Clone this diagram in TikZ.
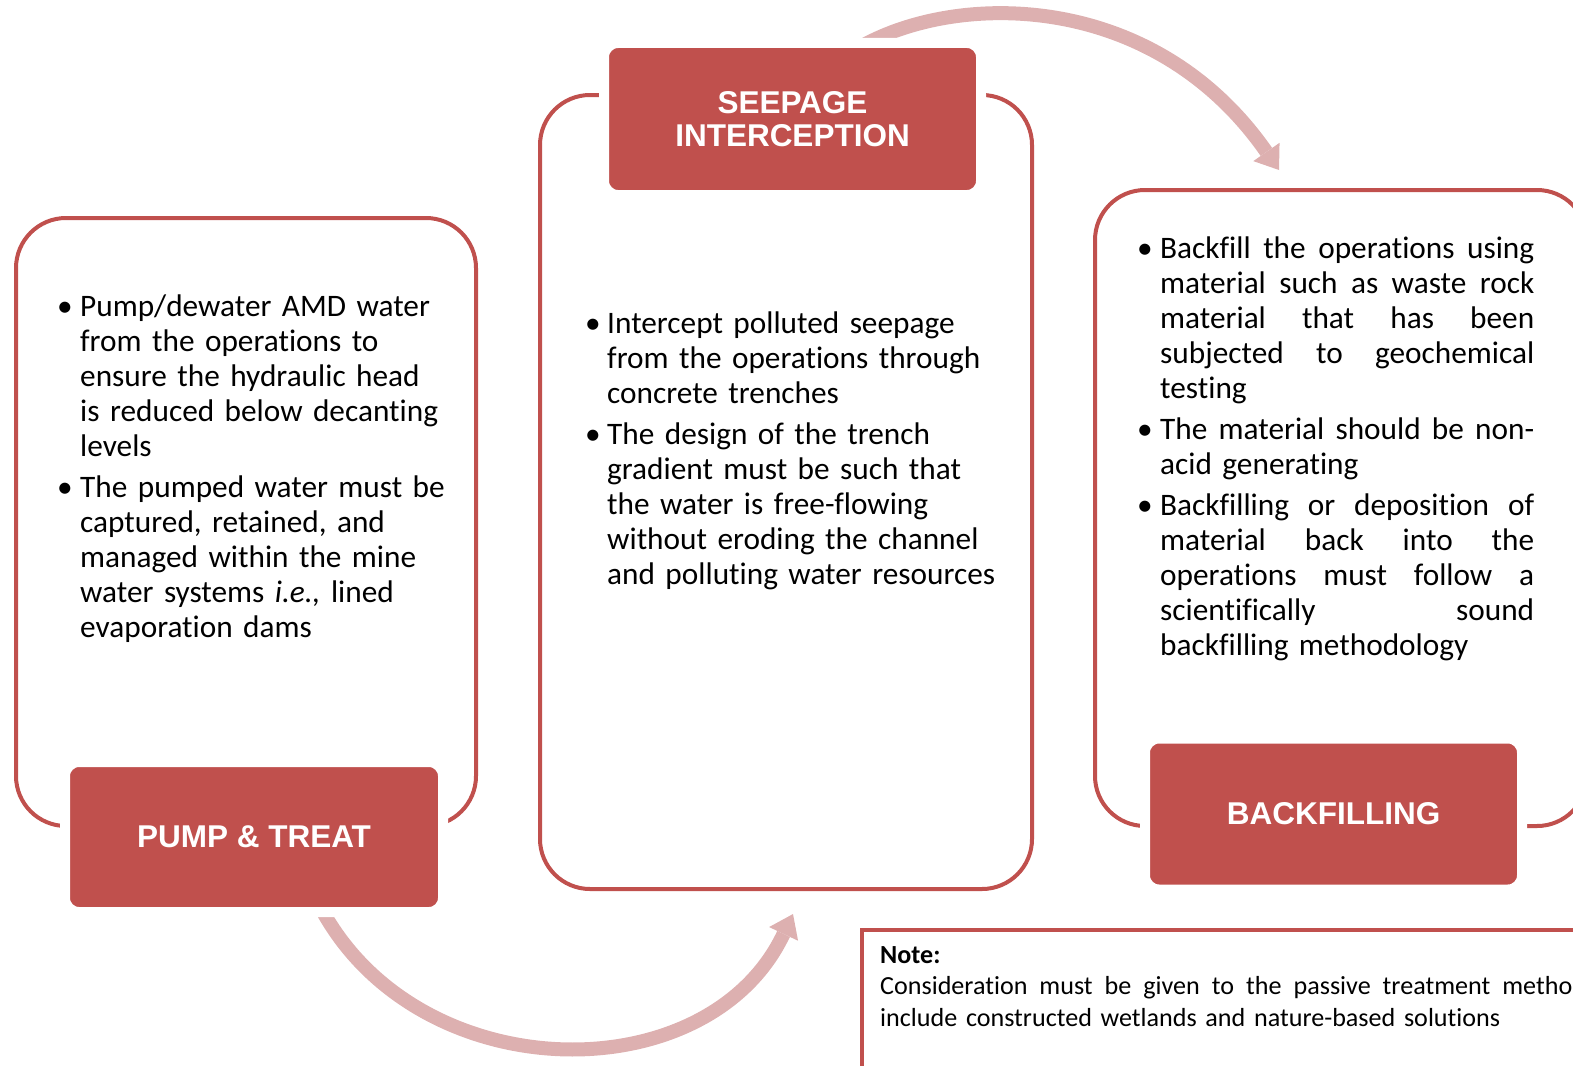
\documentclass[tikz,border=0pt]{standalone}
\usepackage{fontspec}
\setmainfont{Carlito}[Ligatures=NoCommon]
\newfontfamily\titlefont{Liberation Sans}
\usetikzlibrary{arrows.meta}
\definecolor{accred}{HTML}{C0504D}
\definecolor{arrowpink}{HTML}{DDB0B0}
\newcommand{\bul}[2]{\noindent\hangindent=#1\hangafter=1\makebox[#1][l]{\textbullet}#2\par}
\newcommand{\jw}[2]{\hbox to #1{\spaceskip=0.226em plus 1fil\relax #2}}
\newcommand{\jl}[1]{\jw{374pt}{#1}}
\tikzset{
  outlinebox/.style={draw=accred, line width=4pt, rounded corners=50pt, inner sep=0pt},
  titlebox/.style={fill=accred, draw=white, line width=10pt, rounded corners=14pt, inner sep=0pt,
     text=white, font=\titlefont\bfseries\fontsize{31.5}{33}\selectfont, align=center},
  bodytext/.style={anchor=base west, inner sep=0pt, font=\fontsize{31.3}{35}\selectfont},
  flowarrow/.style={draw=arrowpink, line width=14pt,
     -{Triangle[width=32pt,length=22pt,line width=0pt]}},
}
\begin{document}
\begin{tikzpicture}[x=1pt,y=-1pt]
\useasboundingbox (0,0) rectangle (1573,1065);
\clip (0,0) rectangle (1573,1065);
% flow arrows
\coordinate (ta0) at (852,52);
\coordinate (ta1) at (1279,170);
\coordinate (ba0) at (310,885);
\coordinate (ba1) at (793,914);
\draw[flowarrow] (ta0) .. controls (945,-8) and (1150,-15) .. (ta1);
\draw[flowarrow] (ba0) .. controls (395,1090) and (705,1100) .. (ba1);
% outline boxes
\node[outlinebox, minimum width=460pt, minimum height=608pt] (lbox) at (246,522) {};
\node[outlinebox, minimum width=492pt, minimum height=794pt] (mbox) at (786,492) {};
\node[outlinebox, minimum width=492pt, minimum height=636pt] (rbox) at (1341,508) {};
% title boxes
\node[titlebox, minimum width=378pt, minimum height=150pt] (pump) at (254,837) {PUMP \& TREAT};
\node[titlebox, minimum width=377pt, minimum height=152pt] (seep) at (792.5,119) {SEEPAGE\\INTERCEPTION};
\node[titlebox, minimum width=377pt, minimum height=151pt] (back) at (1333.5,814) {BACKFILLING};
% texts
\node[bodytext, text width=420pt] (ltext) at (57,316) {\raggedright%
\bul{23pt}{Pump/dewater AMD water\newline from the operations to\newline ensure the hydraulic head\newline is reduced below decanting\newline levels}\vspace{6pt}%
\bul{23pt}{The pumped water must be\newline captured, retained, and\newline managed within the mine\newline water systems \textit{i.e.,} lined\newline evaporation dams}};
\node[bodytext, text width=460pt] (mtext) at (585,333) {\raggedright%
\bul{22pt}{Intercept polluted seepage\newline from the operations through\newline concrete trenches}\vspace{6pt}%
\bul{22pt}{The design of the trench\newline gradient must be such that\newline the water is free-flowing\newline without eroding the channel\newline and polluting water resources}};
\node[bodytext, text width=400pt] (rtext) at (1137,258) {\raggedright%
\bul{23pt}{\jl{Backfill the operations using}\newline \jl{material such as waste rock}\newline \jl{material that has been}\newline \jl{subjected to geochemical}\newline testing}\vspace{6pt}%
\bul{23pt}{\jl{The material should be non-}\newline acid generating}\vspace{6pt}%
\bul{23pt}{\jl{Backfilling or deposition of}\newline \jl{material back into the}\newline \jl{operations must follow a}\newline \jl{scientifically sound}\newline backfilling methodology}};
% note box
\draw[accred, line width=4pt] (1600,930) -- (862,930) -- (862,1100);
\node[anchor=base west, inner sep=0pt, text width=760pt, font=\fontsize{26.1}{31.5}\selectfont] (note) at (880,963)
 {\raggedright\textbf{Note:}\newline \jw{716pt}{Consideration must be given to the passive treatment methods}\newline include constructed wetlands and nature-based solutions};
\end{tikzpicture}
\end{document}
